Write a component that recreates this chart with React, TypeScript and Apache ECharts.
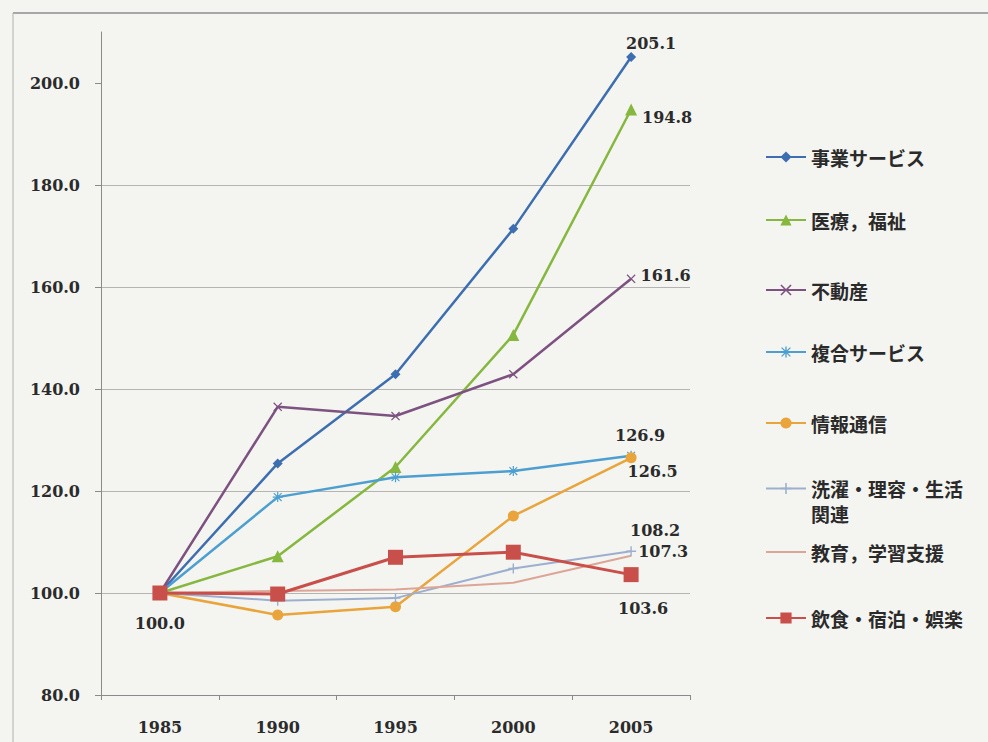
import React, { useEffect, useRef } from "react";
import * as echarts from "echarts";

const years = ["1985", "1990", "1995", "2000", "2005"];
const yTicks = [80, 100, 120, 140, 160, 180, 200];

const jigyo = [100, 125.4, 142.9, 171.4, 205.1];
const iryo = [100, 107.2, 124.7, 150.6, 194.8];
const fudosan = [100, 136.5, 134.7, 142.9, 161.6];
const fukugo = [100, 118.8, 122.7, 123.9, 126.9];
const joho = [100, 95.7, 97.3, 115.1, 126.5];
const sentaku = [100, 98.5, 99.0, 104.8, 108.2];
const kyoiku = [100, 100.4, 100.7, 102.0, 107.3];
const inshoku = [100, 99.8, 107.0, 108.0, 103.6];

const names = [
  "事業サービス",
  "医療，福祉",
  "不動産",
  "複合サービス",
  "情報通信",
  "洗濯・理容・生活関連",
  "教育，学習支援",
  "飲食・宿泊・娯楽",
];

const SERIF = "'DejaVu Serif', 'Liberation Serif', serif";
const CJK = "'Noto Sans CJK JP', 'Noto Sans', sans-serif";

const X_SYM = "path://M1,0L5,4L9,0L10,1L6,5L10,9L9,10L5,6L1,10L0,9L4,5L0,1Z";
const PLUS_SYM = "path://M4.3,0h1.4v4.3h4.3v1.4h-4.3v4.3h-1.4v-4.3h-4.3v-1.4h4.3z";
const AST_SYM =
  "path://M4.4,0h1.2v4.4h4.4v1.2h-4.4v4.4h-1.2v-4.4h-4.4v-1.2h4.4zM1.5,0.7L5,4.2L8.5,0.7L9.3,1.5L5.8,5L9.3,8.5L8.5,9.3L5,5.8L1.5,9.3L0.7,8.5L4.2,5L0.7,1.5Z";

export default function App() {
  const ref = useRef<HTMLDivElement>(null);

  useEffect(() => {
    if (!ref.current) return;
    const chart = echarts.init(ref.current, null, { renderer: "svg" });

    const labelStyle = {
      show: true,
      fontFamily: SERIF,
      fontSize: 16,
      fontWeight: "bold",
      color: "#2b2b2b",
      formatter: (p: any) => Number(p.value).toFixed(1),
    };

    const withLabel = (arr: number[], idx: number, lbl: any, idx2?: number, lbl2?: any) =>
      arr.map((v, i) => {
        if (i === idx) return { value: v, label: { ...labelStyle, ...lbl } };
        if (idx2 !== undefined && i === idx2) return { value: v, label: { ...labelStyle, ...lbl2 } };
        return v;
      });

    const mk = (name: string, data: any[], color: string, symbol: string, size: number, width = 2.5) => ({
      name,
      type: "line",
      data,
      symbol,
      symbolSize: size,
      showSymbol: true,
      lineStyle: { color, width },
      itemStyle: { color },
      label: { show: false },
      emphasis: { disabled: true },
    });

    const series = [
      mk(names[0], withLabel(jigyo, 4, { position: "top", distance: 5, offset: [20, 5] }), "#3d6eb0", "diamond", 10),
      mk(names[1], withLabel(iryo, 4, { position: "right", distance: 5, offset: [0, 8] }), "#86b73e", "triangle", 12),
      mk(names[2], withLabel(fudosan, 4, { position: "right", distance: 5, offset: [0, -3] }), "#7d5281", X_SYM, 9),
      mk(names[3], withLabel(fukugo, 4, { position: "top", distance: 5, offset: [9, -2] }), "#4c9fd0", AST_SYM, 10),
      mk(names[4], withLabel(joho, 4, { position: "right", distance: 5, offset: [-14, 14] }), "#e9a53c", "circle", 11),
      mk(names[5], withLabel(sentaku, 4, { position: "top", distance: 5, offset: [24, -3] }), "#9dafcf", PLUS_SYM, 10, 2),
      mk(names[6], withLabel(kyoiku, 4, { position: "right", distance: 5, offset: [2, -4] }), "#dca597", "circle", 0.1, 2),
      mk(
        names[7],
        withLabel(inshoku, 4, { position: "bottom", distance: 5, offset: [12, 13] }, 0, {
          position: "bottom",
          distance: 5,
          offset: [0, 10],
        }),
        "#c9504a",
        "rect",
        15,
        3
      ),
    ];

    const legendY = [157, 220, 290, 352, 423, 488, 552, 618];
    const legends = names.map((n, i) => {
      const twoLine = i === 5;
      return {
        show: true,
        orient: "vertical",
        left: 765,
        top: twoLine ? legendY[i] - 37 : legendY[i] - 11,
        padding: 0,
        itemWidth: 40,
        itemHeight: 14,
        itemGap: 0,
        selectedMode: false,
        formatter: twoLine ? () => "\n洗濯・理容・生活\n関連" : undefined,
        data: [i === 6 ? { name: n, itemStyle: { opacity: 0 } } : { name: n }],
        textStyle: {
          fontFamily: CJK,
          fontSize: 19,
          fontWeight: "bold",
          color: "#2a2a2a",
          lineHeight: twoLine ? 25 : 22,
        },
      };
    });

    chart.setOption({
      animation: false,
      backgroundColor: "#f4f5f1",
      grid: { left: 101, top: 32, width: 589, height: 663, containLabel: false },
      xAxis: {
        type: "category",
        data: years,
        boundaryGap: true,
        axisLine: { show: true, lineStyle: { color: "#8a8a8a", width: 1 } },
        axisTick: { show: true, length: 5, inside: false, lineStyle: { color: "#8a8a8a" } },
        axisLabel: {
          margin: 24,
          fontFamily: SERIF,
          fontSize: 16,
          fontWeight: "bold",
          color: "#2b2b2b",
        },
        splitLine: { show: false },
      },
      yAxis: {
        type: "value",
        min: 80,
        max: 210,
        interval: 20,
        axisLine: { show: true, lineStyle: { color: "#8a8a8a", width: 1 } },
        axisTick: { show: true, length: 6, customValues: yTicks, lineStyle: { color: "#8a8a8a" } },
        axisLabel: {
          customValues: yTicks,
          margin: 21,
          formatter: (v: number) => v.toFixed(1),
          fontFamily: SERIF,
          fontSize: 16,
          fontWeight: "bold",
          color: "#2b2b2b",
        },
        splitLine: { show: true, showMaxLine: false, lineStyle: { color: "#b4b4b2", width: 1.2 } },
      },
      legend: legends,
      graphic: [
        { type: "line", shape: { x1: 13, y1: 13, x2: 988, y2: 13 }, style: { stroke: "#8c8c8c", lineWidth: 1.5 } },
        { type: "line", shape: { x1: 13, y1: 13, x2: 13, y2: 742 }, style: { stroke: "#b0b0b0", lineWidth: 1 } },
      ],
      series,
    });

    return () => chart.dispose();
  }, []);

  return (
    <div
      ref={ref}
      style={{ position: "fixed", left: 0, top: 0, width: 988, height: 742 }}
    />
  );
}
